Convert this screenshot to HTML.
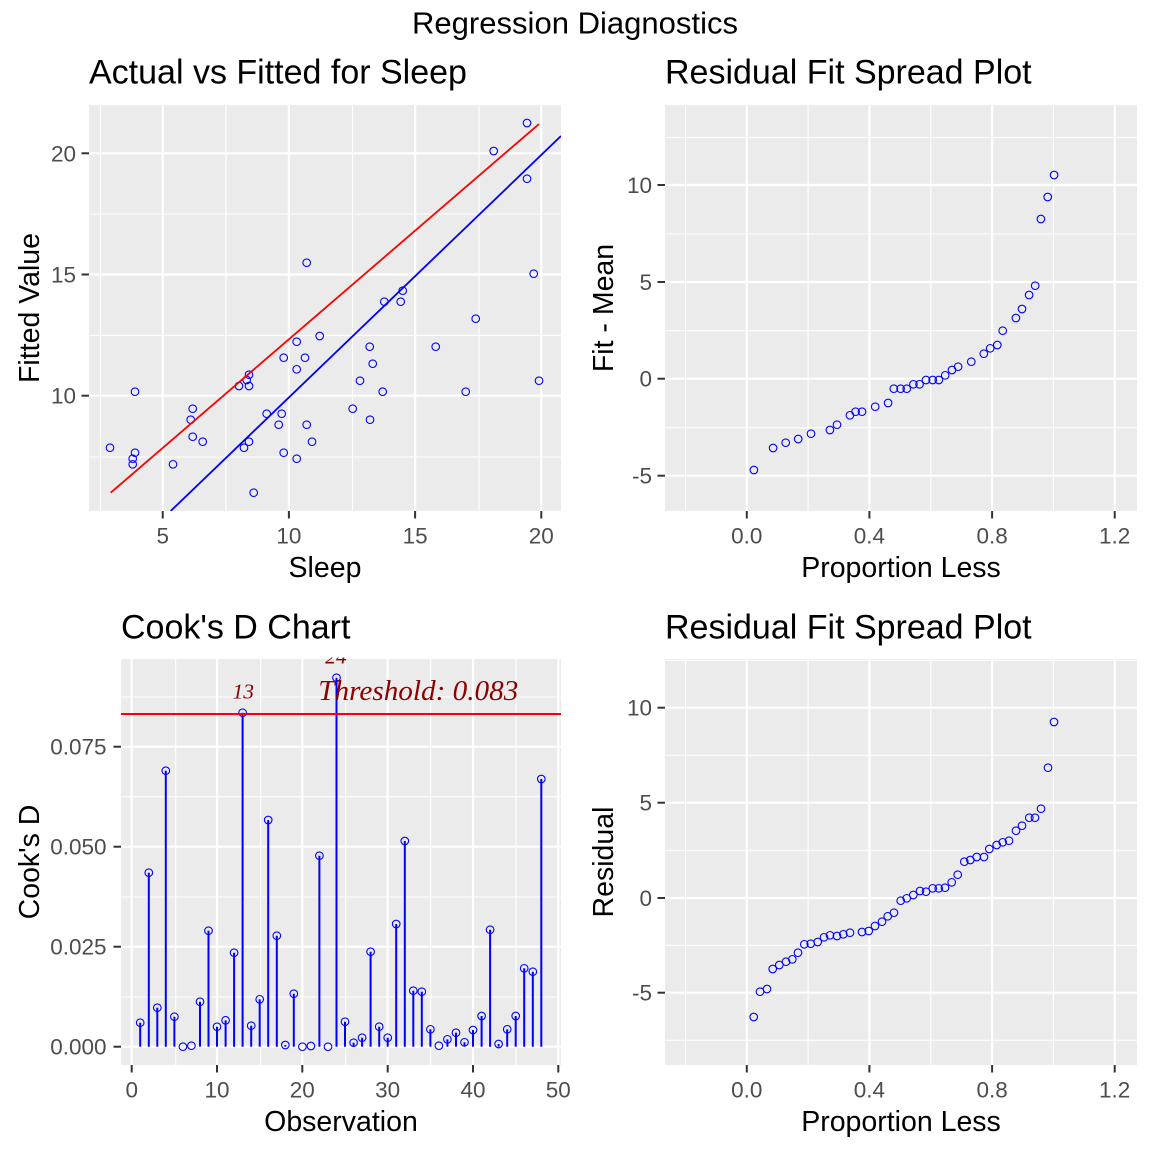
<!DOCTYPE html>
<html><head><meta charset="utf-8"><style>
html,body{margin:0;padding:0;background:#fff;}
svg{display:block;}
text{font-family:"Liberation Sans",Arial,sans-serif;}
.tl{font-size:22.5px;fill:#4D4D4D;}
.at{font-size:28.5px;fill:#000;}
.pt{font-size:34px;fill:#000;}
.mg{stroke:#fff;stroke-width:1.1;}
.Mg{stroke:#fff;stroke-width:2.2;}
.tk{stroke:#333;stroke-width:2;}
.c{fill:none;stroke:#0000FF;stroke-width:1.1;}
.st{stroke:#0000FF;stroke-width:2;}
.lab{font-family:"Liberation Serif",serif;font-style:italic;fill:#8B0000;}
</style></head><body>
<svg width="1152" height="1152" viewBox="0 0 1152 1152" xmlns="http://www.w3.org/2000/svg">
<defs>
<clipPath id="c1"><rect x="89" y="105" width="472" height="406"/></clipPath>
<clipPath id="c3"><rect x="121" y="657.5" width="440" height="407"/></clipPath>
</defs>
<rect width="1152" height="1152" fill="#fff"/>
<text x="575" y="33.3" text-anchor="middle" style="font-size:31px" textLength="326" lengthAdjust="spacingAndGlyphs">Regression Diagnostics</text>

<!-- ============ Panel 1 ============ -->
<text class="pt" x="89" y="83.3">Actual vs Fitted for Sleep</text>
<rect x="89" y="105" width="472" height="406" fill="#EBEBEB"/>
<g class="mg">
<line x1="100.5" y1="105" x2="100.5" y2="511"/><line x1="226" y1="105" x2="226" y2="511"/><line x1="352.5" y1="105" x2="352.5" y2="511"/><line x1="479" y1="105" x2="479" y2="511"/>
<line x1="89" y1="214" x2="561" y2="214"/><line x1="89" y1="335.5" x2="561" y2="335.5"/><line x1="89" y1="457" x2="561" y2="457"/>
</g>
<g class="Mg">
<line x1="162.7" y1="105" x2="162.7" y2="511"/><line x1="288.9" y1="105" x2="288.9" y2="511"/><line x1="415.1" y1="105" x2="415.1" y2="511"/><line x1="541.3" y1="105" x2="541.3" y2="511"/>
<line x1="89" y1="153.3" x2="561" y2="153.3"/><line x1="89" y1="274.5" x2="561" y2="274.5"/><line x1="89" y1="395.7" x2="561" y2="395.7"/>
</g>
<g clip-path="url(#c1)">
<g class="c">
<circle cx="527" cy="123" r="3.8"/><circle cx="493.7" cy="151" r="3.8"/><circle cx="527" cy="178.7" r="3.8"/><circle cx="306.7" cy="262.7" r="3.8"/>
<circle cx="533.7" cy="273.7" r="3.8"/><circle cx="402.7" cy="290.7" r="3.8"/><circle cx="384.3" cy="301.7" r="3.8"/><circle cx="400.7" cy="301.7" r="3.8"/>
<circle cx="475.7" cy="318.7" r="3.8"/><circle cx="319.7" cy="336" r="3.8"/><circle cx="296.7" cy="341.7" r="3.8"/><circle cx="369.7" cy="346.7" r="3.8"/>
<circle cx="435.7" cy="346.7" r="3.8"/><circle cx="283.7" cy="357.7" r="3.8"/><circle cx="305" cy="357.7" r="3.8"/><circle cx="372.7" cy="363.7" r="3.8"/>
<circle cx="296.7" cy="369.3" r="3.8"/><circle cx="249" cy="374.7" r="3.8"/><circle cx="246.7" cy="380" r="3.8"/><circle cx="239" cy="386" r="3.8"/>
<circle cx="249" cy="386" r="3.8"/><circle cx="360" cy="380.7" r="3.8"/><circle cx="539" cy="380.7" r="3.8"/><circle cx="135" cy="391.7" r="3.8"/>
<circle cx="382.7" cy="391.7" r="3.8"/><circle cx="465.7" cy="391.7" r="3.8"/><circle cx="352.7" cy="408.7" r="3.8"/><circle cx="192.7" cy="408.7" r="3.8"/>
<circle cx="266.7" cy="413.7" r="3.8"/><circle cx="281.7" cy="413.7" r="3.8"/><circle cx="190.7" cy="419.7" r="3.8"/><circle cx="370" cy="419.7" r="3.8"/>
<circle cx="278.7" cy="424.7" r="3.8"/><circle cx="306.7" cy="424.7" r="3.8"/><circle cx="192.7" cy="436.7" r="3.8"/><circle cx="202.7" cy="441.7" r="3.8"/>
<circle cx="249" cy="441.7" r="3.8"/><circle cx="312" cy="441.7" r="3.8"/><circle cx="110" cy="447.7" r="3.8"/><circle cx="244" cy="447.7" r="3.8"/>
<circle cx="135" cy="452.7" r="3.8"/><circle cx="283.7" cy="452.7" r="3.8"/><circle cx="132.7" cy="458.7" r="3.8"/><circle cx="296.7" cy="458.7" r="3.8"/>
<circle cx="132.7" cy="464.3" r="3.8"/><circle cx="173" cy="464.3" r="3.8"/><circle cx="253.7" cy="492.7" r="3.8"/>
</g>
<line x1="110.7" y1="492.7" x2="539" y2="124" stroke="#FF0000" stroke-width="1.8"/>
<line x1="170.7" y1="511" x2="561" y2="136" stroke="#0000FF" stroke-width="1.8"/>
</g>
<g class="tk">
<line x1="81.5" y1="153.3" x2="89" y2="153.3"/><line x1="81.5" y1="274.5" x2="89" y2="274.5"/><line x1="81.5" y1="395.7" x2="89" y2="395.7"/>
<line x1="162.7" y1="511" x2="162.7" y2="518.5"/><line x1="288.9" y1="511" x2="288.9" y2="518.5"/><line x1="415.1" y1="511" x2="415.1" y2="518.5"/><line x1="541.3" y1="511" x2="541.3" y2="518.5"/>
</g>
<g class="tl" text-anchor="end">
<text x="76" y="161.3">20</text><text x="76" y="282.5">15</text><text x="76" y="403.7">10</text>
</g>
<g class="tl" text-anchor="middle">
<text x="162.7" y="543.5">5</text><text x="288.9" y="543.5">10</text><text x="415.1" y="543.5">15</text><text x="541.3" y="543.5">20</text>
</g>
<text class="at" x="325" y="577" text-anchor="middle">Sleep</text>
<text class="at" transform="translate(39,308) rotate(-90)" text-anchor="middle">Fitted Value</text>

<!-- ============ Panel 2 ============ -->
<text class="pt" x="665" y="83.3">Residual Fit Spread Plot</text>
<rect x="665" y="105" width="472" height="406" fill="#EBEBEB"/>
<g class="mg">
<line x1="685.5" y1="105" x2="685.5" y2="511"/><line x1="808.1" y1="105" x2="808.1" y2="511"/><line x1="930.8" y1="105" x2="930.8" y2="511"/><line x1="1053.4" y1="105" x2="1053.4" y2="511"/>
<line x1="665" y1="137.5" x2="1137" y2="137.5"/><line x1="665" y1="234" x2="1137" y2="234"/><line x1="665" y1="330.7" x2="1137" y2="330.7"/><line x1="665" y1="427.7" x2="1137" y2="427.7"/>
</g>
<g class="Mg">
<line x1="746.8" y1="105" x2="746.8" y2="511"/><line x1="869.4" y1="105" x2="869.4" y2="511"/><line x1="992.1" y1="105" x2="992.1" y2="511"/><line x1="1114.7" y1="105" x2="1114.7" y2="511"/>
<line x1="665" y1="185" x2="1137" y2="185"/><line x1="665" y1="282" x2="1137" y2="282"/><line x1="665" y1="378.7" x2="1137" y2="378.7"/><line x1="665" y1="475.7" x2="1137" y2="475.7"/>
</g>
<g class="c">
<circle cx="753.9" cy="470" r="3.8"/><circle cx="773.1" cy="448" r="3.8"/><circle cx="785.7" cy="442.7" r="3.8"/><circle cx="798.2" cy="439" r="3.8"/>
<circle cx="811" cy="433.7" r="3.8"/><circle cx="829.9" cy="430" r="3.8"/><circle cx="837" cy="424.7" r="3.8"/><circle cx="849.9" cy="415.3" r="3.8"/>
<circle cx="855.6" cy="411.7" r="3.8"/><circle cx="862" cy="411.7" r="3.8"/><circle cx="875.2" cy="406.7" r="3.8"/><circle cx="888.1" cy="403" r="3.8"/>
<circle cx="893.8" cy="388.7" r="3.8"/><circle cx="900.6" cy="388.7" r="3.8"/><circle cx="906.7" cy="388.7" r="3.8"/><circle cx="913.4" cy="384.3" r="3.8"/>
<circle cx="919.5" cy="384.3" r="3.8"/><circle cx="926" cy="380" r="3.8"/><circle cx="932.7" cy="380" r="3.8"/><circle cx="938.8" cy="380" r="3.8"/>
<circle cx="945.2" cy="375.3" r="3.8"/><circle cx="952" cy="370" r="3.8"/><circle cx="958.1" cy="366.7" r="3.8"/><circle cx="971.3" cy="361.7" r="3.8"/>
<circle cx="983.8" cy="353.7" r="3.8"/><circle cx="990.2" cy="348.3" r="3.8"/><circle cx="997.3" cy="345" r="3.8"/><circle cx="1002.7" cy="330.7" r="3.8"/>
<circle cx="1015.9" cy="318" r="3.8"/><circle cx="1022" cy="309" r="3.8"/><circle cx="1029.1" cy="295" r="3.8"/><circle cx="1035.2" cy="285.7" r="3.8"/>
<circle cx="1040.9" cy="219" r="3.8"/><circle cx="1047.7" cy="197" r="3.8"/><circle cx="1054.1" cy="175" r="3.8"/>
</g>
<g class="tk">
<line x1="657.5" y1="185" x2="665" y2="185"/><line x1="657.5" y1="282" x2="665" y2="282"/><line x1="657.5" y1="378.7" x2="665" y2="378.7"/><line x1="657.5" y1="475.7" x2="665" y2="475.7"/>
<line x1="746.8" y1="511" x2="746.8" y2="518.5"/><line x1="869.4" y1="511" x2="869.4" y2="518.5"/><line x1="992.1" y1="511" x2="992.1" y2="518.5"/><line x1="1114.7" y1="511" x2="1114.7" y2="518.5"/>
</g>
<g class="tl" text-anchor="end">
<text x="652" y="193">10</text><text x="652" y="290">5</text><text x="652" y="386.7">0</text><text x="652" y="483.7">-5</text>
</g>
<g class="tl" text-anchor="middle">
<text x="746.8" y="543.5">0.0</text><text x="869.4" y="543.5">0.4</text><text x="992.1" y="543.5">0.8</text><text x="1114.7" y="543.5">1.2</text>
</g>
<text class="at" x="901" y="577" text-anchor="middle">Proportion Less</text>
<text class="at" transform="translate(613,308) rotate(-90)" text-anchor="middle">Fit - Mean</text>

<!-- ============ Panel 3 ============ -->
<text class="pt" x="121" y="638.3">Cook's D Chart</text>
<rect x="121" y="659" width="440" height="406" fill="#EBEBEB"/>
<g class="mg">
<line x1="175.7" y1="659" x2="175.7" y2="1065"/><line x1="260.7" y1="659" x2="260.7" y2="1065"/><line x1="345.7" y1="659" x2="345.7" y2="1065"/><line x1="430.7" y1="659" x2="430.7" y2="1065"/><line x1="516" y1="659" x2="516" y2="1065"/>
<line x1="121" y1="697" x2="561" y2="697"/><line x1="121" y1="796.7" x2="561" y2="796.7"/><line x1="121" y1="897" x2="561" y2="897"/><line x1="121" y1="997" x2="561" y2="997"/>
</g>
<g class="Mg">
<line x1="131.7" y1="659" x2="131.7" y2="1065"/><line x1="217" y1="659" x2="217" y2="1065"/><line x1="302.3" y1="659" x2="302.3" y2="1065"/><line x1="387.7" y1="659" x2="387.7" y2="1065"/><line x1="473" y1="659" x2="473" y2="1065"/><line x1="558.3" y1="659" x2="558.3" y2="1065"/>
<line x1="121" y1="746.7" x2="561" y2="746.7"/><line x1="121" y1="846.7" x2="561" y2="846.7"/><line x1="121" y1="946.7" x2="561" y2="946.7"/><line x1="121" y1="1046.7" x2="561" y2="1046.7"/>
</g>
<g class="st">
<line x1="140.2" y1="1046.7" x2="140.2" y2="1022.7"/><line x1="148.8" y1="1046.7" x2="148.8" y2="872.7"/><line x1="157.3" y1="1046.7" x2="157.3" y2="1007.7"/><line x1="165.8" y1="1046.7" x2="165.8" y2="770.7"/>
<line x1="174.4" y1="1046.7" x2="174.4" y2="1016.7"/><line x1="200" y1="1046.7" x2="200" y2="1001.7"/><line x1="208.5" y1="1046.7" x2="208.5" y2="930.7"/>
<line x1="217" y1="1046.7" x2="217" y2="1026.7"/><line x1="225.6" y1="1046.7" x2="225.6" y2="1020.3"/><line x1="234.1" y1="1046.7" x2="234.1" y2="952.7"/><line x1="242.6" y1="1046.7" x2="242.6" y2="712.7"/>
<line x1="251.2" y1="1046.7" x2="251.2" y2="1025.7"/><line x1="259.7" y1="1046.7" x2="259.7" y2="999.3"/><line x1="268.2" y1="1046.7" x2="268.2" y2="820"/><line x1="276.8" y1="1046.7" x2="276.8" y2="935.7"/>
<line x1="285.3" y1="1046.7" x2="285.3" y2="1045"/><line x1="293.8" y1="1046.7" x2="293.8" y2="993.7"/><line x1="319.4" y1="1046.7" x2="319.4" y2="855.7"/>
<line x1="336.5" y1="1046.7" x2="336.5" y2="677.7"/><line x1="345" y1="1046.7" x2="345" y2="1021.7"/><line x1="353.6" y1="1046.7" x2="353.6" y2="1042.7"/><line x1="362.1" y1="1046.7" x2="362.1" y2="1037.7"/>
<line x1="370.6" y1="1046.7" x2="370.6" y2="951.7"/><line x1="379.2" y1="1046.7" x2="379.2" y2="1026.7"/><line x1="387.7" y1="1046.7" x2="387.7" y2="1037.7"/><line x1="396.2" y1="1046.7" x2="396.2" y2="924"/>
<line x1="404.8" y1="1046.7" x2="404.8" y2="841"/><line x1="413.3" y1="1046.7" x2="413.3" y2="990.7"/><line x1="421.8" y1="1046.7" x2="421.8" y2="991.7"/><line x1="430.4" y1="1046.7" x2="430.4" y2="1029.3"/>
<line x1="447.4" y1="1046.7" x2="447.4" y2="1039.3"/><line x1="456" y1="1046.7" x2="456" y2="1032.7"/><line x1="464.5" y1="1046.7" x2="464.5" y2="1042.3"/>
<line x1="473" y1="1046.7" x2="473" y2="1030"/><line x1="481.6" y1="1046.7" x2="481.6" y2="1016"/><line x1="490.1" y1="1046.7" x2="490.1" y2="929.7"/><line x1="498.6" y1="1046.7" x2="498.6" y2="1044"/>
<line x1="507.2" y1="1046.7" x2="507.2" y2="1029.3"/><line x1="515.7" y1="1046.7" x2="515.7" y2="1016"/><line x1="524.2" y1="1046.7" x2="524.2" y2="968.3"/><line x1="532.8" y1="1046.7" x2="532.8" y2="971.7"/>
<line x1="541.3" y1="1046.7" x2="541.3" y2="779"/>
</g>
<g class="c">
<circle cx="140.2" cy="1022.7" r="3.8"/><circle cx="148.8" cy="872.7" r="3.8"/><circle cx="157.3" cy="1007.7" r="3.8"/><circle cx="165.8" cy="770.7" r="3.8"/>
<circle cx="174.4" cy="1016.7" r="3.8"/><circle cx="182.9" cy="1046.7" r="3.8"/><circle cx="191.4" cy="1045.7" r="3.8"/><circle cx="200" cy="1001.7" r="3.8"/>
<circle cx="208.5" cy="930.7" r="3.8"/><circle cx="217" cy="1026.7" r="3.8"/><circle cx="225.6" cy="1020.3" r="3.8"/><circle cx="234.1" cy="952.7" r="3.8"/>
<circle cx="242.6" cy="712.7" r="3.8"/><circle cx="251.2" cy="1025.7" r="3.8"/><circle cx="259.7" cy="999.3" r="3.8"/><circle cx="268.2" cy="820" r="3.8"/>
<circle cx="276.8" cy="935.7" r="3.8"/><circle cx="285.3" cy="1045" r="3.8"/><circle cx="293.8" cy="993.7" r="3.8"/><circle cx="302.4" cy="1046.7" r="3.8"/>
<circle cx="310.9" cy="1046" r="3.8"/><circle cx="319.4" cy="855.7" r="3.8"/><circle cx="328" cy="1046.7" r="3.8"/><circle cx="336.5" cy="677.7" r="3.8"/>
<circle cx="345" cy="1021.7" r="3.8"/><circle cx="353.6" cy="1042.7" r="3.8"/><circle cx="362.1" cy="1037.7" r="3.8"/><circle cx="370.6" cy="951.7" r="3.8"/>
<circle cx="379.2" cy="1026.7" r="3.8"/><circle cx="387.7" cy="1037.7" r="3.8"/><circle cx="396.2" cy="924" r="3.8"/><circle cx="404.8" cy="841" r="3.8"/>
<circle cx="413.3" cy="990.7" r="3.8"/><circle cx="421.8" cy="991.7" r="3.8"/><circle cx="430.4" cy="1029.3" r="3.8"/><circle cx="438.9" cy="1045.7" r="3.8"/>
<circle cx="447.4" cy="1039.3" r="3.8"/><circle cx="456" cy="1032.7" r="3.8"/><circle cx="464.5" cy="1042.3" r="3.8"/><circle cx="473" cy="1030" r="3.8"/>
<circle cx="481.6" cy="1016" r="3.8"/><circle cx="490.1" cy="929.7" r="3.8"/><circle cx="498.6" cy="1044" r="3.8"/><circle cx="507.2" cy="1029.3" r="3.8"/>
<circle cx="515.7" cy="1016" r="3.8"/><circle cx="524.2" cy="968.3" r="3.8"/><circle cx="532.8" cy="971.7" r="3.8"/><circle cx="541.3" cy="779" r="3.8"/>
</g>
<line x1="121" y1="714" x2="561" y2="714" stroke="#FF0000" stroke-width="2"/>
<g clip-path="url(#c3)">
<text class="lab" x="243.3" y="698.3" text-anchor="middle" style="font-size:21.5px">13</text>
<text class="lab" x="336" y="663.3" text-anchor="middle" style="font-size:21.5px">24</text>
<text class="lab" x="318.3" y="700" style="font-size:28px" textLength="200" lengthAdjust="spacingAndGlyphs">Threshold: 0.083</text>
</g>
<g class="tk">
<line x1="113.5" y1="746.7" x2="121" y2="746.7"/><line x1="113.5" y1="846.7" x2="121" y2="846.7"/><line x1="113.5" y1="946.7" x2="121" y2="946.7"/><line x1="113.5" y1="1046.7" x2="121" y2="1046.7"/>
<line x1="131.7" y1="1065" x2="131.7" y2="1072.5"/><line x1="217" y1="1065" x2="217" y2="1072.5"/><line x1="302.3" y1="1065" x2="302.3" y2="1072.5"/><line x1="387.7" y1="1065" x2="387.7" y2="1072.5"/><line x1="473" y1="1065" x2="473" y2="1072.5"/><line x1="558.3" y1="1065" x2="558.3" y2="1072.5"/>
</g>
<g class="tl" text-anchor="end">
<text x="106.5" y="754.7">0.075</text><text x="106.5" y="854.7">0.050</text><text x="106.5" y="954.7">0.025</text><text x="106.5" y="1054.7">0.000</text>
</g>
<g class="tl" text-anchor="middle">
<text x="131.7" y="1097.5">0</text><text x="217" y="1097.5">10</text><text x="302.3" y="1097.5">20</text><text x="387.7" y="1097.5">30</text><text x="473" y="1097.5">40</text><text x="558.3" y="1097.5">50</text>
</g>
<text class="at" x="341" y="1131" text-anchor="middle">Observation</text>
<text class="at" transform="translate(39,862) rotate(-90)" text-anchor="middle">Cook's D</text>

<!-- ============ Panel 4 ============ -->
<text class="pt" x="665" y="638.3">Residual Fit Spread Plot</text>
<rect x="665" y="659" width="472" height="406" fill="#EBEBEB"/>
<g class="mg">
<line x1="685.5" y1="659" x2="685.5" y2="1065"/><line x1="808.1" y1="659" x2="808.1" y2="1065"/><line x1="930.8" y1="659" x2="930.8" y2="1065"/><line x1="1053.4" y1="659" x2="1053.4" y2="1065"/>
<line x1="665" y1="660.3" x2="1137" y2="660.3"/><line x1="665" y1="755.3" x2="1137" y2="755.3"/><line x1="665" y1="850.3" x2="1137" y2="850.3"/><line x1="665" y1="945.3" x2="1137" y2="945.3"/><line x1="665" y1="1040.3" x2="1137" y2="1040.3"/>
</g>
<g class="Mg">
<line x1="746.8" y1="659" x2="746.8" y2="1065"/><line x1="869.4" y1="659" x2="869.4" y2="1065"/><line x1="992.1" y1="659" x2="992.1" y2="1065"/><line x1="1114.7" y1="659" x2="1114.7" y2="1065"/>
<line x1="665" y1="707.7" x2="1137" y2="707.7"/><line x1="665" y1="802.7" x2="1137" y2="802.7"/><line x1="665" y1="898" x2="1137" y2="898"/><line x1="665" y1="992.7" x2="1137" y2="992.7"/>
</g>
<g class="c">
<circle cx="753.7" cy="1017" r="3.8"/><circle cx="760" cy="991.7" r="3.8"/><circle cx="767" cy="989" r="3.8"/><circle cx="772.7" cy="969" r="3.8"/>
<circle cx="779.3" cy="965" r="3.8"/><circle cx="786" cy="961.7" r="3.8"/><circle cx="792.3" cy="959.3" r="3.8"/><circle cx="798" cy="952.7" r="3.8"/>
<circle cx="804.3" cy="944.3" r="3.8"/><circle cx="810.7" cy="943.7" r="3.8"/><circle cx="817.7" cy="942" r="3.8"/><circle cx="824" cy="937.3" r="3.8"/>
<circle cx="830" cy="935.3" r="3.8"/><circle cx="837" cy="936" r="3.8"/><circle cx="843.3" cy="934.3" r="3.8"/><circle cx="850" cy="932.7" r="3.8"/>
<circle cx="862" cy="932" r="3.8"/><circle cx="868.7" cy="931" r="3.8"/><circle cx="875" cy="926" r="3.8"/><circle cx="882" cy="921.7" r="3.8"/>
<circle cx="887.7" cy="916.3" r="3.8"/><circle cx="894" cy="912.7" r="3.8"/><circle cx="900.7" cy="900.7" r="3.8"/><circle cx="906.7" cy="898.3" r="3.8"/>
<circle cx="913.3" cy="895" r="3.8"/><circle cx="920" cy="891" r="3.8"/><circle cx="926" cy="891.7" r="3.8"/><circle cx="932.7" cy="888.3" r="3.8"/>
<circle cx="938.7" cy="888.3" r="3.8"/><circle cx="945" cy="887.7" r="3.8"/><circle cx="951.7" cy="882.3" r="3.8"/><circle cx="957.7" cy="874.7" r="3.8"/>
<circle cx="964.3" cy="861.7" r="3.8"/><circle cx="970.3" cy="860" r="3.8"/><circle cx="976.7" cy="857" r="3.8"/><circle cx="984" cy="857" r="3.8"/>
<circle cx="989.3" cy="849" r="3.8"/><circle cx="996.7" cy="845" r="3.8"/><circle cx="1002.7" cy="842.3" r="3.8"/><circle cx="1009" cy="840.7" r="3.8"/>
<circle cx="1016" cy="830.7" r="3.8"/><circle cx="1022" cy="825.7" r="3.8"/><circle cx="1029.3" cy="817.7" r="3.8"/><circle cx="1035" cy="817.7" r="3.8"/>
<circle cx="1041" cy="808.7" r="3.8"/><circle cx="1048" cy="767.7" r="3.8"/><circle cx="1054" cy="722" r="3.8"/>
</g>
<g class="tk">
<line x1="657.5" y1="707.7" x2="665" y2="707.7"/><line x1="657.5" y1="802.7" x2="665" y2="802.7"/><line x1="657.5" y1="898" x2="665" y2="898"/><line x1="657.5" y1="992.7" x2="665" y2="992.7"/>
<line x1="746.8" y1="1065" x2="746.8" y2="1072.5"/><line x1="869.4" y1="1065" x2="869.4" y2="1072.5"/><line x1="992.1" y1="1065" x2="992.1" y2="1072.5"/><line x1="1114.7" y1="1065" x2="1114.7" y2="1072.5"/>
</g>
<g class="tl" text-anchor="end">
<text x="652" y="715.7">10</text><text x="652" y="810.7">5</text><text x="652" y="906">0</text><text x="652" y="1000.7">-5</text>
</g>
<g class="tl" text-anchor="middle">
<text x="746.8" y="1097.5">0.0</text><text x="869.4" y="1097.5">0.4</text><text x="992.1" y="1097.5">0.8</text><text x="1114.7" y="1097.5">1.2</text>
</g>
<text class="at" x="901" y="1131" text-anchor="middle">Proportion Less</text>
<text class="at" transform="translate(613,862) rotate(-90)" text-anchor="middle">Residual</text>
</svg>
</body></html>
